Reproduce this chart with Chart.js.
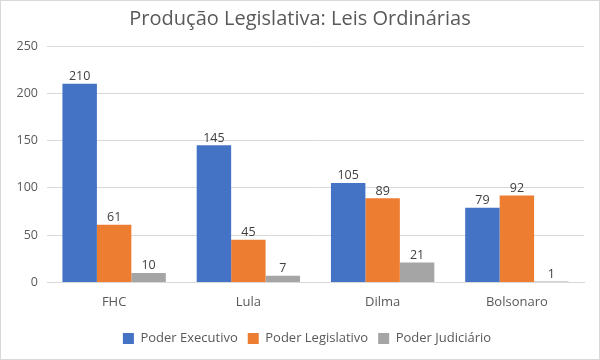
<!DOCTYPE html>
<html><head><meta charset="utf-8">
<script src="https://cdn.jsdelivr.net/npm/chart.js"></script>
<style>html,body{margin:0;padding:0;background:#fff}#wrap{width:600px;height:360px;position:relative;box-sizing:border-box;border:1px solid #d9d9d9}</style>
</head><body><div id="wrap"><canvas id="c"></canvas></div>
<script>
const categories = ["FHC", "Lula", "Dilma", "Bolsonaro"];
const seriesNames = ["Poder Executivo", "Poder Legislativo", "Poder Judiciário"];
const executivo = [210, 145, 105, 79];
const legislativo = [61, 45, 89, 92];
const judiciario = [10, 7, 21, 1];
const colors = ["#4472C4", "#ED7D31", "#A5A5A5"];
const FONT = "'Open Sans', 'Liberation Sans', sans-serif";
const TXT = "#595959";

const labelPlugin = {
  id: "labels",
  afterLayout(chart) {
    if (chart.legend) { chart.legend.left += 7; chart.legend.right += 7; }
  },
  afterDatasetsDraw(chart) {
    const ctx = chart.ctx;
    ctx.save();
    ctx.font = "12.5px " + FONT;
    ctx.fillStyle = "#404040";
    ctx.textAlign = "center";
    ctx.textBaseline = "bottom";
    chart.data.datasets.forEach((ds, i) => {
      chart.getDatasetMeta(i).data.forEach((bar, j) => {
        ctx.fillText(String(ds.data[j]), bar.x, bar.y - 1);
      });
    });
    ctx.restore();
  }
};

new Chart(document.getElementById("c"), {
  type: "bar",
  data: {
    labels: categories,
    datasets: [
      { label: seriesNames[0], data: executivo, backgroundColor: colors[0] },
      { label: seriesNames[1], data: legislativo, backgroundColor: colors[1] },
      { label: seriesNames[2], data: judiciario, backgroundColor: colors[2] }
    ]
  },
  options: {
    responsive: true,
    maintainAspectRatio: false,
    animation: false,
    layout: { padding: { left: 0, right: 0, top: 2, bottom: 4 } },
    datasets: { bar: { categoryPercentage: 0.77, barPercentage: 1.0 } },
    plugins: {
      title: { display: true, text: "Produção Legislativa: Leis Ordinárias", color: TXT,
        font: { family: FONT, size: 20, weight: "normal" }, padding: { top: 4, bottom: 15 } },
      legend: { position: "bottom", labels: { color: TXT, font: { family: FONT, size: 13 },
        boxWidth: 11, boxHeight: 11, padding: 10 } },
      tooltip: { enabled: false }
    },
    scales: {
      x: {
        grid: { display: false, drawTicks: false },
        border: { display: true, color: "#d9d9d9" },
        ticks: { color: TXT, font: { family: FONT, size: 13 }, padding: 12 }
      },
      y: {
        min: 0, max: 250,
        grid: { color: "#d9d9d9", drawTicks: false },
        border: { display: false },
        ticks: { stepSize: 50, color: TXT, font: { family: FONT, size: 12.5 }, padding: 9 },
        afterFit: s => { s.width = 46; }
      },
      y2: {
        position: "right", min: 0, max: 250,
        grid: { display: false, drawTicks: false },
        border: { display: false },
        ticks: { display: false },
        afterFit: s => { s.width = 15; }
      }
    }
  },
  plugins: [labelPlugin]
});
</script></body></html>
